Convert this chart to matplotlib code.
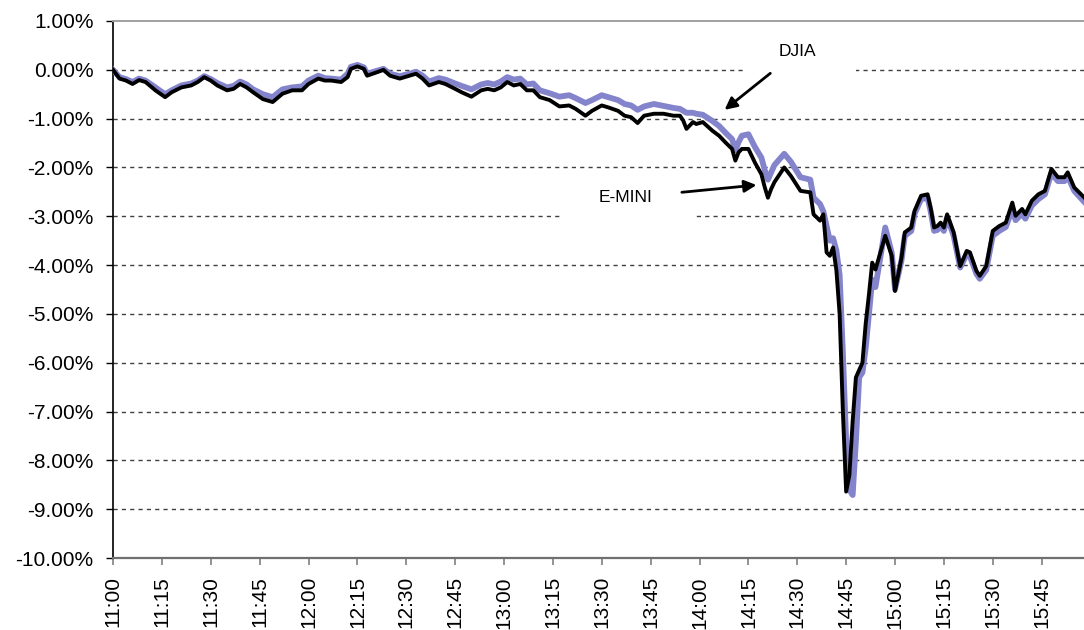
import matplotlib
matplotlib.use('Agg')
import matplotlib.pyplot as plt
from matplotlib.patches import Rectangle

# minutes after 11:00, % change of E-MINI and DJIA
minutes = [0, 2, 4, 6, 8, 10, 13, 16, 18, 21, 24, 26, 28, 30, 32, 35, 37, 39, 41, 43,
           46, 49, 52, 55, 58, 60, 63, 65, 67, 70, 72, 73, 75, 77, 78, 81, 83, 85, 88, 91,
           93, 95, 97, 100, 102, 105, 107, 110, 113, 115, 117, 119, 121, 123, 125, 127, 129, 131, 134, 137,
           140, 142, 145, 147, 150, 152, 155, 157, 159, 161, 163, 166, 169, 172, 174, 175, 176, 178, 179, 181,
           184, 186, 188, 190, 191, 192, 193, 195, 197, 199, 200, 201, 202, 203, 206, 208, 211, 214, 215, 217,
           218, 219, 220, 221, 222, 223, 224, 225, 226, 227, 228, 229, 230, 231, 232, 233, 234, 237, 239, 240,
           242, 243, 245, 246, 248, 250, 251, 252, 253, 254, 255, 256, 258, 260, 262, 263, 265, 266, 268, 270,
           272, 274, 276, 277, 279, 280, 282, 284, 286, 288, 290, 292, 293, 295, 298]

emini = [0.00, -0.18, -0.22, -0.29, -0.21, -0.25, -0.42, -0.56, -0.46, -0.36, -0.32, -0.25, -0.15, -0.22, -0.32, -0.42, -0.39, -0.29, -0.36, -0.46,
         -0.60, -0.66, -0.49, -0.42, -0.42, -0.29, -0.18, -0.22, -0.22, -0.25, -0.15, 0.02, 0.07, 0.02, -0.12, -0.05, 0.00, -0.12, -0.18, -0.12,
         -0.08, -0.18, -0.32, -0.25, -0.29, -0.39, -0.46, -0.55, -0.42, -0.39, -0.42, -0.36, -0.25, -0.32, -0.29, -0.42, -0.42, -0.56, -0.62, -0.75,
         -0.73, -0.80, -0.94, -0.84, -0.73, -0.77, -0.84, -0.94, -0.97, -1.09, -0.94, -0.90, -0.90, -0.94, -0.94, -1.04, -1.21, -1.07, -1.11, -1.07,
         -1.25, -1.35, -1.49, -1.62, -1.86, -1.69, -1.62, -1.62, -1.90, -2.14, -2.40, -2.62, -2.44, -2.30, -2.00, -2.17, -2.48, -2.51, -2.96, -3.09,
         -2.96, -3.74, -3.81, -3.64, -4.10, -5.00, -7.00, -8.64, -8.30, -7.20, -6.30, -6.15, -6.00, -5.20, -4.60, -3.95, -4.09, -3.40, -3.81, -4.53,
         -3.85, -3.33, -3.23, -2.89, -2.58, -2.55, -2.85, -3.23, -3.20, -3.13, -3.23, -2.96, -3.33, -4.02, -3.71, -3.74, -4.12, -4.22, -4.02, -3.30,
         -3.20, -3.13, -2.72, -2.99, -2.85, -2.96, -2.68, -2.55, -2.48, -2.03, -2.20, -2.20, -2.10, -2.41, -2.61]

djia = [0.00, -0.15, -0.19, -0.25, -0.18, -0.22, -0.36, -0.50, -0.42, -0.32, -0.28, -0.22, -0.13, -0.19, -0.27, -0.36, -0.33, -0.24, -0.30, -0.40,
        -0.50, -0.56, -0.40, -0.36, -0.34, -0.22, -0.12, -0.17, -0.18, -0.20, -0.08, 0.06, 0.10, 0.05, -0.08, -0.02, 0.02, -0.08, -0.13, -0.08,
        -0.04, -0.12, -0.24, -0.17, -0.20, -0.28, -0.33, -0.40, -0.30, -0.27, -0.30, -0.24, -0.15, -0.20, -0.18, -0.30, -0.28, -0.42, -0.48, -0.55,
        -0.52, -0.58, -0.68, -0.62, -0.52, -0.56, -0.62, -0.70, -0.73, -0.82, -0.75, -0.70, -0.74, -0.78, -0.80, -0.84, -0.88, -0.88, -0.90, -0.92,
        -1.05, -1.15, -1.29, -1.42, -1.65, -1.48, -1.35, -1.32, -1.58, -1.80, -2.05, -2.25, -2.10, -1.95, -1.72, -1.88, -2.20, -2.25, -2.62, -2.75,
        -2.90, -3.20, -3.50, -3.45, -3.70, -4.20, -5.80, -7.60, -8.60, -8.71, -7.60, -6.30, -6.20, -5.70, -5.00, -4.30, -4.45, -3.23, -3.75, -4.50,
        -3.90, -3.40, -3.30, -2.95, -2.65, -2.62, -2.92, -3.30, -3.28, -3.20, -3.30, -3.02, -3.40, -4.05, -3.78, -3.82, -4.18, -4.28, -4.10, -3.40,
        -3.30, -3.22, -2.85, -3.08, -2.95, -3.05, -2.78, -2.65, -2.55, -2.12, -2.28, -2.28, -2.18, -2.48, -2.70]

tick_minutes = list(range(0, 286, 15))
tick_labels = ['11:00', '11:15', '11:30', '11:45', '12:00', '12:15', '12:30', '12:45', '13:00', '13:15',
               '13:30', '13:45', '14:00', '14:15', '14:30', '14:45', '15:00', '15:15', '15:30', '15:45']
y_ticks = list(range(-10, 2))

plt.rcParams['font.family'] = ['Liberation Sans', 'DejaVu Sans']

fig = plt.figure(figsize=(10.84, 6.30), dpi=100)
ax = fig.add_axes([113 / 1084, 1 - 558 / 630, 1 - 113 / 1084, (558 - 21) / 630])

# dashed gridlines
for v in y_ticks[1:-1]:
    ax.axhline(v, ls=(0, (3, 3)), color='#404040', lw=1, zorder=1)

# white boxes behind the labels (they cut the gridlines)
ax.add_patch(Rectangle((194, -0.10), 34, 0.74, facecolor='white', edgecolor='none', zorder=2))
ax.add_patch(Rectangle((138, -3.08), 40.5, 0.92, facecolor='white', edgecolor='none', zorder=2))

ax.plot(minutes, djia, color='#8484CC', lw=4.2, zorder=3, solid_joinstyle='round')
ax.plot(minutes, emini, color='black', lw=2.8, zorder=4, solid_joinstyle='round')

ax.annotate('DJIA', xy=(187.7, -0.82), xytext=(210, 0.37), fontsize=12.5,
            ha='center', va='center', zorder=6,
            arrowprops=dict(arrowstyle='-|>', color='black', lw=2, mutation_scale=18,
                            shrinkA=13, shrinkB=0))
ax.annotate('E-MINI', xy=(197.5, -2.36), xytext=(157.4, -2.62), fontsize=12.5,
            ha='center', va='center', zorder=6,
            arrowprops=dict(arrowstyle='-|>', color='black', lw=2, mutation_scale=18,
                            shrinkA=19, shrinkB=0))

ax.set_xlim(0, 298)
ax.set_ylim(-10, 1)
ax.set_xticks(tick_minutes)
ax.set_xticklabels(tick_labels, rotation=90, fontsize=15)
ax.set_yticks(y_ticks)
ax.set_yticklabels(['%.2f%%' % v for v in y_ticks], fontsize=15)
ax.tick_params(axis='y', length=5, width=1, color='black', pad=9)
ax.tick_params(axis='x', length=5, width=1.2, color='#808080', pad=8)

ax.spines['right'].set_visible(False)
ax.spines['left'].set_color('black')
ax.spines['left'].set_linewidth(1.2)
ax.spines['bottom'].set_color('#707070')
ax.spines['bottom'].set_linewidth(1.6)
ax.spines['top'].set_color('#a0a0a0')
ax.spines['top'].set_linewidth(1.4)

fig.savefig('out.png', dpi=100)
